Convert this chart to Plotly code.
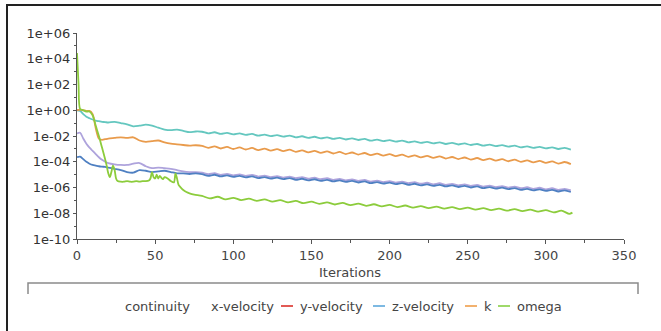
import numpy as np
import plotly.graph_objects as go

# ---------------- data (log10 of residuals) ----------------
iters_main = [0, 2, 4, 6, 8, 10, 12, 14, 16, 18, 20, 24, 28, 32, 36, 40, 44, 48, 52, 56, 60, 64, 68, 72, 76,
              80, 84, 88, 92, 96, 100, 104, 108, 112, 116, 120, 124, 128, 132, 136, 140, 144, 148, 152, 156,
              160, 164, 168, 172, 176, 180, 184, 188, 192, 196, 200, 204, 208, 212, 216, 220, 224, 228, 232,
              236, 240, 244, 248, 252, 256, 260, 264, 268, 272, 276, 280, 284, 288, 292, 296, 300, 304, 308,
              312, 316]

continuity_log = [0.0, -0.05, -0.3, -0.5, -0.62, -0.72, -0.8, -0.85, -0.9, -0.92, -0.95, -0.9, -1.0, -1.1,
                  -1.25, -1.2, -1.12, -1.2, -1.35, -1.5, -1.55, -1.5, -1.6, -1.7, -1.65,
                  -1.67, -1.79, -1.71, -1.84, -1.76, -1.88, -1.80, -1.92, -1.84, -1.97, -1.89, -2.01, -1.93,
                  -2.05, -1.97, -2.10, -2.02, -2.14, -2.06, -2.18, -2.10, -2.23, -2.15, -2.27, -2.19, -2.31,
                  -2.23, -2.36, -2.28, -2.40, -2.32, -2.44, -2.36, -2.49, -2.41, -2.53, -2.45, -2.57, -2.49,
                  -2.62, -2.54, -2.66, -2.58, -2.70, -2.62, -2.75, -2.67, -2.79, -2.71, -2.83, -2.75, -2.88,
                  -2.80, -2.92, -2.84, -2.96, -2.88, -3.01, -2.93, -3.05]

k_log = [0.0, 0.05, 0.0, -0.05, -0.05, -0.3, -1.4, -2.2, -2.3, -2.25, -2.2, -2.15, -2.1, -2.15, -2.1,
         -2.35, -2.45, -2.4, -2.35, -2.5, -2.6, -2.65, -2.7, -2.75, -2.72,
         -2.76, -2.92, -2.80, -2.97, -2.85, -3.01, -2.89, -3.05, -2.93, -3.10, -2.98, -3.14, -3.02, -3.18,
         -3.06, -3.23, -3.11, -3.27, -3.15, -3.31, -3.19, -3.36, -3.24, -3.40, -3.28, -3.44, -3.32, -3.49,
         -3.37, -3.53, -3.41, -3.57, -3.45, -3.62, -3.50, -3.66, -3.54, -3.70, -3.58, -3.75, -3.63, -3.79,
         -3.67, -3.83, -3.71, -3.88, -3.76, -3.92, -3.80, -3.96, -3.84, -4.01, -3.89, -4.05, -3.93, -4.09,
         -3.97, -4.14, -4.02, -4.18]

x_velocity_log = [-1.8, -1.75, -2.2, -2.6, -2.9, -3.15, -3.4, -3.65, -3.85, -4.0, -4.1, -4.2, -4.25, -4.25,
                  -4.15, -4.1, -4.35, -4.5, -4.45, -4.5, -4.55, -4.65, -4.75, -4.8, -4.8,
                  -4.85, -4.97, -4.89, -5.02, -4.94, -5.06, -4.98, -5.10, -5.02, -5.15, -5.07, -5.19, -5.11,
                  -5.23, -5.15, -5.28, -5.20, -5.32, -5.24, -5.36, -5.28, -5.41, -5.33, -5.45, -5.37, -5.49,
                  -5.41, -5.54, -5.46, -5.58, -5.50, -5.62, -5.54, -5.67, -5.59, -5.71, -5.63, -5.75, -5.67,
                  -5.80, -5.72, -5.84, -5.76, -5.88, -5.80, -5.93, -5.85, -5.97, -5.89, -6.01, -5.93, -6.06,
                  -5.98, -6.10, -6.02, -6.14, -6.06, -6.19, -6.11, -6.23]

z_velocity_log = [-3.65, -3.6, -3.8, -4.0, -4.15, -4.25, -4.3, -4.35, -4.38, -4.4, -4.45, -4.55, -4.65, -4.8,
                  -4.85, -4.65, -4.7, -4.8, -4.75, -4.7, -4.8, -4.9, -4.9, -4.95, -4.9,
                  -4.97, -5.09, -5.01, -5.14, -5.06, -5.18, -5.10, -5.22, -5.14, -5.27, -5.19, -5.31, -5.23,
                  -5.35, -5.27, -5.40, -5.32, -5.44, -5.36, -5.48, -5.40, -5.53, -5.45, -5.57, -5.49, -5.61,
                  -5.53, -5.66, -5.58, -5.70, -5.62, -5.74, -5.66, -5.79, -5.71, -5.83, -5.75, -5.87, -5.79,
                  -5.92, -5.84, -5.96, -5.88, -6.00, -5.92, -6.05, -5.97, -6.09, -6.01, -6.13, -6.05, -6.18,
                  -6.10, -6.22, -6.14, -6.26, -6.18, -6.31, -6.23, -6.35]

iters_omega = [0, 1, 2, 4, 6, 8, 10, 12, 14, 16, 18, 19, 20, 21, 22, 23, 24, 25, 26, 28, 30, 32, 34, 36, 38,
               40, 42, 44, 46, 47, 48, 49, 50, 51, 52, 53, 54, 55, 56, 58, 60, 62, 63, 64, 65, 66, 68, 70,
               72, 75, 80, 85, 90, 95, 100, 105, 110, 115, 120, 125, 130, 135, 140, 145, 150, 155, 160, 165,
               170, 175, 180, 185, 190, 195, 200, 205, 210, 215, 220, 225, 230, 235, 240, 245, 250, 255, 260,
               265, 270, 275, 280, 285, 290, 295, 300, 305, 310, 315, 317]

omega_log = [4.45, 2.0, 0.1, 0.0, -0.1, -0.1, -0.4, -1.2, -2.0, -2.9, -3.8, -4.3, -4.9, -5.2, -4.8, -4.3,
             -4.6, -5.3, -5.5, -5.55, -5.55, -5.5, -5.55, -5.55, -5.5, -5.55, -5.5, -5.5, -5.45, -5.3, -4.8,
             -5.2, -5.3, -5.0, -5.3, -5.1, -5.25, -5.35, -5.2, -5.3, -5.5, -5.6, -4.9, -5.3, -5.8, -5.95,
             -6.2, -6.35, -6.45, -6.55,
             -6.65, -6.85, -6.72, -6.92, -6.80, -6.98, -6.86, -7.04, -6.92, -7.10, -6.98, -7.16, -7.04,
             -7.22, -7.10, -7.27, -7.15, -7.32, -7.20, -7.37, -7.25, -7.42, -7.30, -7.47, -7.35, -7.52,
             -7.40, -7.56, -7.44, -7.60, -7.48, -7.64, -7.52, -7.68, -7.56, -7.72, -7.60, -7.76, -7.64,
             -7.80, -7.68, -7.84, -7.72, -7.88, -7.76, -7.93, -7.80, -8.05, -7.95]

y_tick_vals = [1e6, 1e4, 1e2, 1e0, 1e-2, 1e-4, 1e-6, 1e-8, 1e-10]
y_tick_text = ["1e+06", "1e+04", "1e+02", "1e+00", "1e-02", "1e-04", "1e-06", "1e-08", "1e-10"]
y_minor_vals = [1e5, 1e3, 1e1, 1e-1, 1e-3, 1e-5, 1e-7, 1e-9]
x_tick_vals = [0, 50, 100, 150, 200, 250, 300, 350]

legend_names = ["continuity", "x-velocity", "y-velocity", "z-velocity", "k", "omega"]
legend_colors = [None, None, "#e25a55", "#7db9e2", "#f2b16e", "#9fd96a"]

# ---------------- styling ----------------
W, H = 661, 331
ML, MR, MT, MB = 77, 37, 33, 92
PW, PH = W - ML - MR, H - MT - MB
FONT = "DejaVu Sans, Verdana, sans-serif"
TXT = "#454545"


def px(x):
    return (x - ML) / PW


def py(y):
    return (H - MB - y) / PH


series = [
    (iters_main, continuity_log, "#64c7bf"),
    (iters_main, k_log, "#e99b4c"),
    (iters_main, x_velocity_log, "#aea3dc"),
    (iters_main, z_velocity_log, "#4f80c2"),
    (iters_omega, omega_log, "#8ccc3c"),
]

fig = go.Figure()
for xs, ls, col in series:
    fig.add_trace(go.Scatter(x=xs, y=10 ** np.array(ls), mode="lines",
                             line=dict(color=col, width=1.8, shape="spline", smoothing=0.8),
                             showlegend=False, hoverinfo="skip"))

fig.update_layout(
    width=W, height=H,
    margin=dict(l=ML, r=MR, t=MT, b=MB, pad=0),
    paper_bgcolor="white", plot_bgcolor="white",
    font=dict(family=FONT, color=TXT, size=13),
    showlegend=False,
)
fig.update_xaxes(range=[0, 350], tickvals=x_tick_vals, showgrid=False, zeroline=False,
                 showline=True, linecolor="#555", linewidth=1.2,
                 ticks="outside", ticklen=4, tickcolor="#555",
                 minor=dict(dtick=25, ticks="outside", ticklen=3, tickcolor="#555"),
                 tickfont=dict(size=13, color=TXT))
fig.update_yaxes(type="log", range=[-10, 6], tickvals=y_tick_vals, ticktext=y_tick_text,
                 showgrid=False, zeroline=False, showline=True, linecolor="#555", linewidth=1.2,
                 ticks="outside", ticklen=3, tickcolor="#555",
                 minor=dict(tickvals=y_minor_vals, ticks="outside", ticklen=2, tickcolor="#555"),
                 tickfont=dict(size=13, color="#333"))

shapes = [
    # outer frame
    dict(type="rect", xref="paper", yref="paper", x0=px(7), x1=px(664), y0=py(5), y1=py(340),
         line=dict(color="#222", width=2), fillcolor="rgba(0,0,0,0)", layer="above"),
    # legend bracket
    dict(type="path", xref="paper", yref="paper",
         path=f"M {px(28)} {py(294)} L {px(28)} {py(283)} L {px(638)} {py(283)} L {px(638)} {py(294)}",
         line=dict(color="#8a8a8a", width=1.5)),
]
annotations = [
    dict(text="Iterations", x=px(350), y=py(272), xref="paper", yref="paper", showarrow=False,
         font=dict(size=13, color=TXT), xanchor="center", yanchor="middle"),
]

label_x = [123, 209, 298, 390, 482, 515]
ly = 306
for name, col, lx in zip(legend_names, legend_colors, label_x):
    annotations.append(dict(text=name, x=px(lx), y=py(ly), xref="paper", yref="paper", showarrow=False,
                            font=dict(size=13, color=TXT), xanchor="left", yanchor="middle"))
    if col is not None:
        shapes.append(dict(type="line", xref="paper", yref="paper", x0=px(lx - 17), x1=px(lx - 5),
                           y0=py(ly), y1=py(ly), line=dict(color=col, width=2)))

fig.update_layout(shapes=shapes, annotations=annotations)
fig.write_html("out.html")
